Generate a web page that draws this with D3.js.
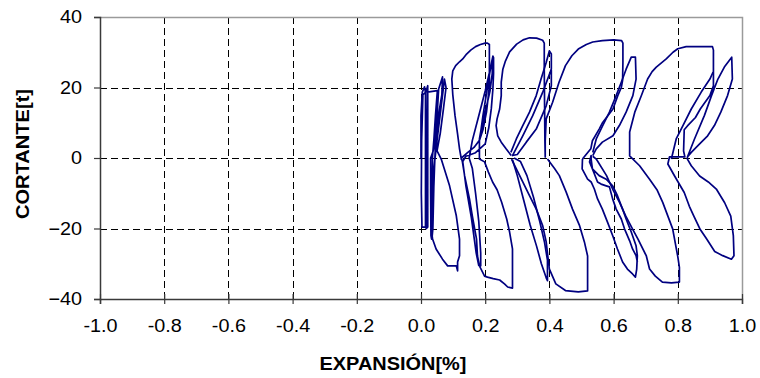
<!DOCTYPE html>
<html><head><meta charset="utf-8">
<script src="https://cdn.jsdelivr.net/npm/d3@7"></script>
<style>body{margin:0;background:#fff}svg{display:block}</style>
</head><body><svg id="c" width="760" height="378"></svg>
<script>
const xTicks=[-1.0,-0.8,-0.6,-0.4,-0.2,0.0,0.2,0.4,0.6,0.8,1.0];
const yTicks=[-40,-20,0,20,40];
const xTitle="EXPANSIÓN[%]";
const yTitle="CORTANTE[t]";
// hysteresis strokes: [expansion %, cortante t]; each array is one pen stroke
const loop0=[[0,0],[0,12],[0.004,18.7],[0.011,20.2],[0.014,18.5],[0.014,-19.6],[0.003,-19.6],[0.001,-10],[0.002,5],[0.006,18],[0.015,18.7],[0.021,20.5],[0.021,-19.6],[0.016,-20],[0.017,-5],[0.02,18.7],[0.051,19.1],[0.045,12],[0.04,5],[0.036,0.6],[0.034,-10],[0.032,-20],[0.034,-23],[0.037,-20],[0.04,-8],[0.042,-3],[0.046,6],[0.052,15],[0.055,19.6],[0.067,23],[0.065,18],[0.056,13],[0.048,7],[0.038,2],[0.03,0],[0.03,-10],[0.031,-22],[0.033,-23],[0.036,-15],[0.04,-3],[0.05,5],[0.062,14],[0.07,20],[0.073,22.4],[0.078,20],[0.07,14],[0.06,7],[0.05,2],[0.063,-0.3],[0.089,-7.9],[0.11,-16.4],[0.12,-23],[0.12,-27.7],[0.114,-29.5],[0.114,-32],[0.11,-30.6],[0.098,-30.6],[0.083,-30.6],[0.067,-28.7],[0.047,-25.8],[0.036,-23],[0.032,-20],[0.033,-10],[0.04,-3]];
const loop1=[[0.126,-0.5],[0.12,2.6],[0.114,6.8],[0.106,12],[0.099,18],[0.096,22.4],[0.099,24.7],[0.108,26.2],[0.12,27.3],[0.13,28.1],[0.142,29.5],[0.155,30.6],[0.17,31.6],[0.185,32.2],[0.2,32.6],[0.207,32.6],[0.213,32.2],[0.213,26],[0.213,20.5],[0.209,17],[0.204,13],[0.193,8],[0.182,5],[0.165,3],[0.145,1.5],[0.126,0],
[0.129,-1.1],[0.136,-5.1],[0.151,-11.6],[0.16,-16.5],[0.173,-23],[0.176,-27.8],[0.182,-30.6],[0.198,-33.5],[0.207,-33.8],[0.225,-34.2],[0.245,-34.6],[0.26,-35.7],[0.27,-36.6],[0.285,-36.9],[0.285,-30],[0.285,-25.8],[0.276,-21],[0.267,-17.3],[0.251,-12.5],[0.237,-9],[0.223,-6.8],[0.21,-4],[0.198,-1.1],[0.182,-0.3],
[0.182,5.4],[0.187,8],[0.193,12],[0.2,16],[0.207,20],[0.214,24],[0.22,27.2],[0.224,28.9],[0.226,28.5],[0.226,24],[0.224,19.6],[0.219,14],[0.211,8.5],[0.2,4],[0.17,1.5],[0.14,0.5],[0.13,-1],
[0.14,-8],[0.157,-17],[0.172,-27],[0.18,-30.5],[0.186,-30.6],[0.186,-27],[0.18,-18],[0.17,-10],[0.16,-3],[0.15,0],[0.16,5],[0.18,12],[0.2,19],[0.215,25],[0.222,27.5],[0.222,24],[0.215,19],[0.2,13],[0.19,8]];
const loop2=[[0.281,0.7],[0.265,2.6],[0.25,4.5],[0.239,6.3],[0.234,9.2],[0.237,11.1],[0.245,13.9],[0.25,17.7],[0.25,21.5],[0.255,25.2],[0.263,27.5],[0.276,30.1],[0.298,32.3],[0.318,33.5],[0.338,34.1],[0.36,34],[0.379,33.4],[0.384,32.6],[0.384,25],[0.385,15],[0.386,5],[0.387,0.3],
[0.387,4.9],[0.39,11.1],[0.41,15.8],[0.43,21.5],[0.45,26.2],[0.47,29],[0.49,30.9],[0.515,32.2],[0.535,32.9],[0.565,33.3],[0.6,33.5],[0.625,33.3],[0.629,32.6],[0.629,27],[0.628,22],[0.624,20],[0.613,17.7],[0.598,13.9],[0.566,10.1],[0.555,8.2],[0.534,4.9],[0.529,2.6],[0.503,-0.3]];
const loop3=[[0.282,-0.3],[0.297,-3.1],[0.317,-6.8],[0.338,-10.7],[0.359,-14.5],[0.379,-19.2],[0.39,-23.8],[0.395,-27.8],[0.4,-31.5],[0.42,-35.7],[0.45,-37.6],[0.49,-38],[0.519,-37.7],[0.519,-33],[0.519,-27.8],[0.509,-23.8],[0.494,-19.2],[0.472,-14.5],[0.452,-9.6],[0.431,-5],[0.416,-3],[0.394,-0.3]];
const loop4=[[0.28,1.6],[0.297,5.4],[0.317,9.2],[0.338,13],[0.359,17.7],[0.374,22.4],[0.39,27.1],[0.4,30.4],[0.406,29.5],[0.406,25.2],[0.379,18.6],[0.348,12],[0.317,6.3],[0.285,0.7],[0.3,1],[0.328,4.5],[0.359,8.2],[0.39,14.8],[0.406,20.5],[0.406,25]];
const loop5=[[0.285,-0.5],[0.3,-5],[0.32,-12],[0.34,-19],[0.36,-25],[0.375,-30],[0.39,-34],[0.394,-34.8],[0.394,-29],[0.385,-24],[0.37,-18],[0.35,-11],[0.33,-5],[0.31,-1],[0.29,0]];
const loop6=[[0.535,1.6],[0.546,5.4],[0.566,9.2],[0.587,13],[0.608,17.7],[0.624,21.5],[0.639,25.2],[0.655,28.6],[0.668,28.6],[0.67,22.4],[0.66,17.7],[0.639,13],[0.618,9.2],[0.598,6.3],[0.565,4.5],[0.546,2.6],[0.535,0.7]];
const loop7=[[0.503,-0.3],[0.502,-3.1],[0.519,-6],[0.53,-6.8],[0.54,-8.8],[0.55,-11.6],[0.565,-14.5],[0.581,-18.2],[0.597,-22],[0.612,-25.8],[0.628,-29.5],[0.643,-31.5],[0.659,-32.9],[0.668,-33.8],[0.672,-31.5],[0.674,-27.7],[0.67,-24.9],[0.655,-21],[0.639,-17.3],[0.628,-14.5],[0.612,-10.7],[0.597,-7.9],[0.577,-6],[0.555,-5],[0.534,-3.1],[0.525,-1.1],[0.53,0.7],
[0.53,-0.3],[0.534,-3.1],[0.55,-6.8],[0.561,-7.4],[0.577,-7.9],[0.587,-8.2],[0.597,-11.6],[0.608,-14.5],[0.624,-17.3],[0.634,-20.1],[0.65,-23.5],[0.659,-25.8],[0.67,-27.7],[0.674,-29.5]];
const loop8=[[0.535,0.5],[0.546,-0.3],[0.578,-5],[0.597,-8.8],[0.618,-12.5],[0.638,-16.5],[0.66,-20.3],[0.676,-23],[0.702,-27.8],[0.712,-31.5],[0.73,-33.5],[0.752,-35.2],[0.78,-35.4],[0.805,-35.2],[0.805,-31],[0.8,-28],[0.784,-20.1],[0.753,-12.6],[0.735,-9],[0.712,-6],[0.681,-2.2],[0.65,0.6],
[0.65,4],[0.65,7.4],[0.666,13],[0.686,17.6],[0.706,22.4],[0.72,24.5],[0.733,25.8],[0.764,28.1],[0.785,30],[0.8,31],[0.826,31.6],[0.87,31.6],[0.908,31.6],[0.911,30.6],[0.911,26],[0.911,20.5],[0.9,17.7],[0.87,13.9],[0.855,11.5],[0.83,9.1],[0.82,8],[0.818,2],[0.822,0.3],[0.774,0.3],
[0.769,-1.7],[0.79,-5.1],[0.82,-9.8],[0.836,-13.7],[0.85,-16.5],[0.87,-20.3],[0.89,-23],[0.915,-26.5],[0.94,-27.7],[0.967,-28.7],[0.975,-27.7],[0.973,-22],[0.965,-16.5],[0.946,-12.7],[0.92,-8.8],[0.895,-6.8],[0.868,-5.1],[0.842,-2.2],[0.83,-0.3],
[0.83,0.3],[0.852,5.4],[0.883,12.1],[0.905,17.7],[0.925,22.4],[0.945,25.8],[0.968,28.6],[0.97,22.4],[0.955,17.7],[0.934,13],[0.914,9.2],[0.893,6.3],[0.868,4],[0.842,1.6],[0.83,0.3]];
const loop9=[[0.78,-0.3],[0.795,5.4],[0.816,9.2],[0.842,13.9],[0.873,18.7],[0.9,22.4],[0.91,24.4]];
const loops=[loop0,loop1,loop2,loop3,loop4,loop5,loop6,loop7,loop8,loop9];

const svg=d3.select("#c");
const L=100,R=742,T=17,B=299;
const x=d3.scaleLinear().domain([-1,1]).range([L,R]);
const y=d3.scaleLinear().domain([-40,40]).range([B,T]);
const FONT="Liberation Sans, Arial, sans-serif";

// gridlines
const g=svg.append("g");
g.selectAll("line.v").data(xTicks.slice(1,-1)).join("line")
 .attr("x1",d=>Math.round(x(d))+0.5).attr("x2",d=>Math.round(x(d))+0.5).attr("y1",T).attr("y2",B)
 .attr("stroke","#000").attr("stroke-dasharray","7,4").attr("stroke-width",1);
g.selectAll("line.h").data(yTicks.slice(1,-1)).join("line")
 .attr("y1",d=>Math.round(y(d))+0.5).attr("y2",d=>Math.round(y(d))+0.5).attr("x1",L).attr("x2",R)
 .attr("stroke","#000").attr("stroke-dasharray","7,4").attr("stroke-width",1);
// frame top/right
svg.append("path").attr("d",`M${L},${T+0.5}H${R+0.5}V${B}`).attr("fill","none").attr("stroke","#9a9a9a").attr("stroke-width",1.5);

// data
const line=d3.line().x(d=>x(d[0])).y(d=>y(d[1])).curve(d3.curveLinear);
svg.append("g").selectAll("path").data(loops).join("path")
 .attr("d",line).attr("fill","none").attr("stroke","#000080").attr("stroke-width",1.7).attr("stroke-linejoin","round");

// axes
const ax=svg.append("g").attr("transform",`translate(0,${B})`)
 .call(d3.axisBottom(x).tickValues(xTicks).tickFormat(d3.format(".1f")).tickSize(5).tickPadding(15));
ax.selectAll(".tick line").attr("y1",-5);
const ay=svg.append("g").attr("transform",`translate(${L},0)`)
 .call(d3.axisLeft(y).tickValues(yTicks).tickSize(6).tickPadding(12));
[ax,ay].forEach(a=>{
  a.select(".domain").attr("stroke","#3a3a3a").attr("stroke-width",1.5);
  a.selectAll(".tick line").attr("stroke","#3a3a3a").attr("stroke-width",1.2);
  a.selectAll("text").attr("font-family",FONT).attr("font-size",18).attr("fill","#000");
});
ax.selectAll("text").text(d=>d.toFixed(1).replace("-0.0","0.0"));
[ax,ay].forEach(a=>a.selectAll("text").each(function(){
  const w=this.getComputedTextLength();
  d3.select(this).attr("textLength",w*1.1).attr("lengthAdjust","spacingAndGlyphs");
}));

svg.append("text").attr("x",393).attr("y",370).attr("text-anchor","middle")
 .attr("font-family",FONT).attr("font-weight","bold").attr("font-size",18)
 .attr("textLength",147).attr("lengthAdjust","spacingAndGlyphs").text(xTitle);
svg.append("text").attr("transform",`translate(29,154) rotate(-90)`).attr("text-anchor","middle")
 .attr("font-family",FONT).attr("font-weight","bold").attr("font-size",18)
 .attr("textLength",130).attr("lengthAdjust","spacingAndGlyphs").text(yTitle);
</script></body></html>
